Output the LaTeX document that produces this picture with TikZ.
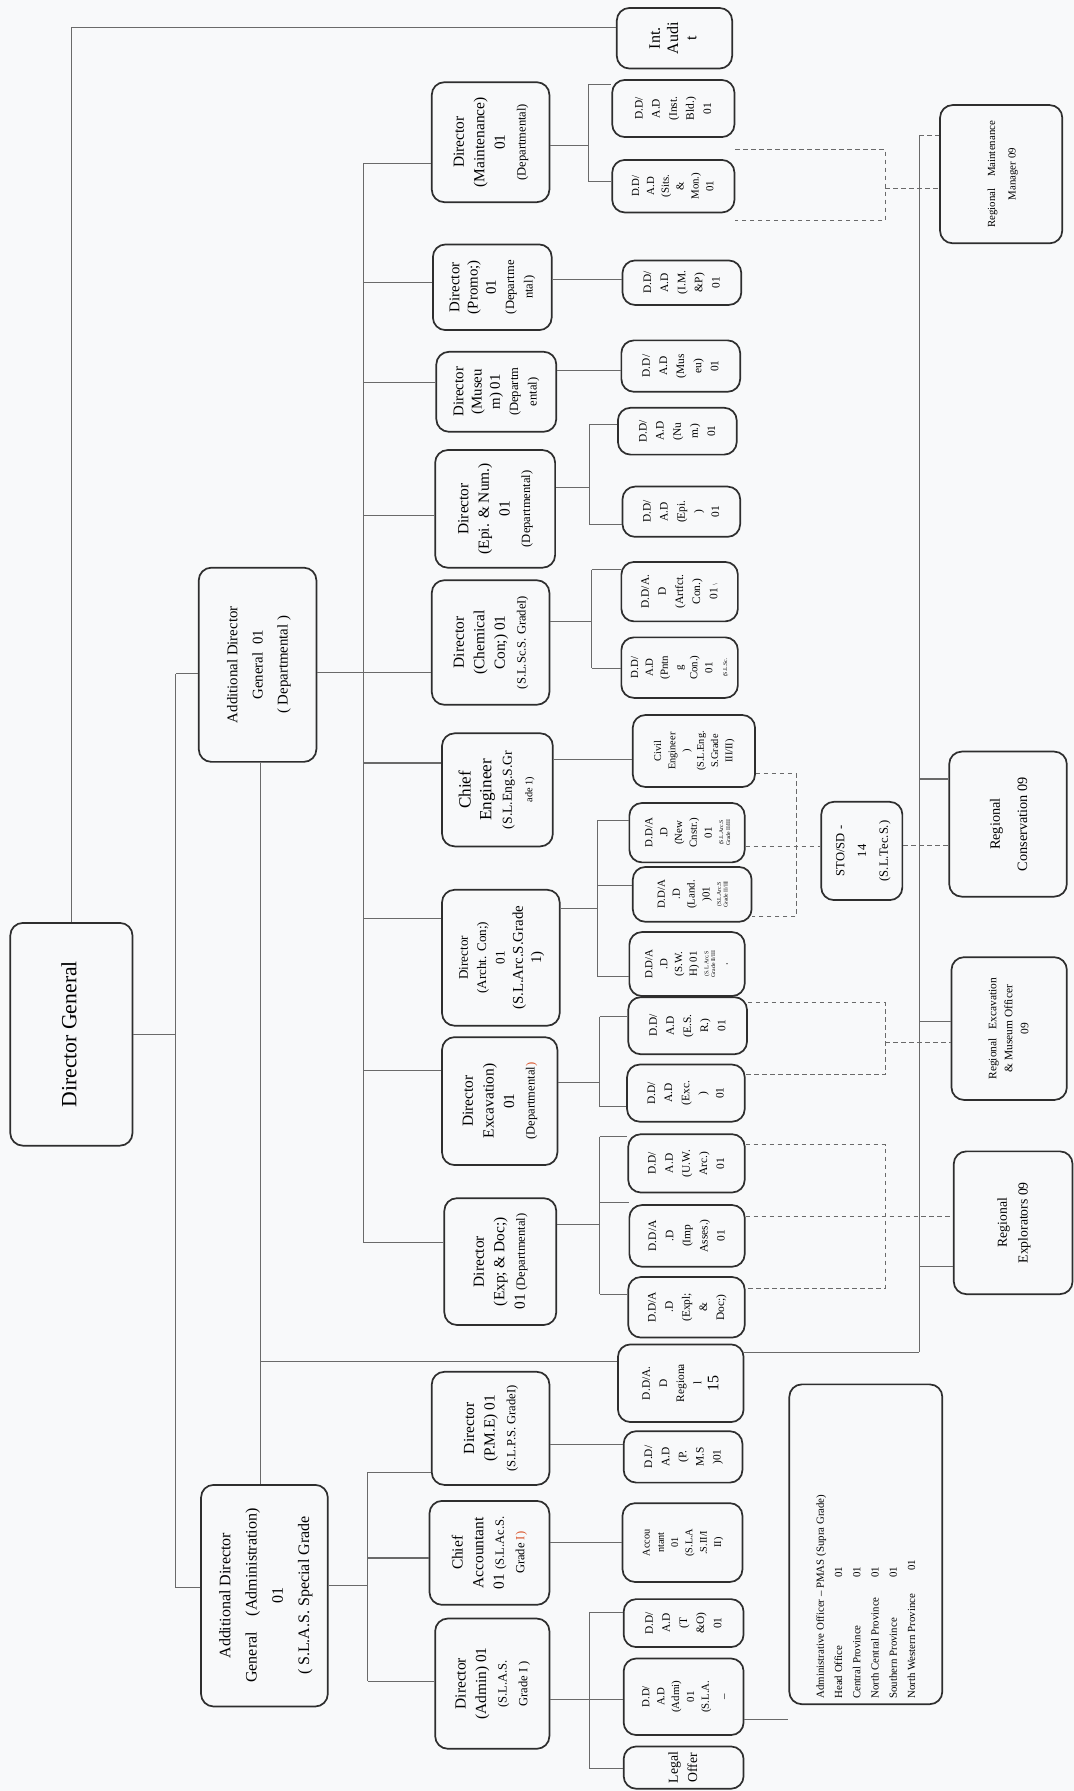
\documentclass[tikz,border=0pt]{standalone}
\usepackage{fontspec}
\setmainfont{Liberation Serif}
\usepackage{graphicx}
\definecolor{boxc}{HTML}{2E2E2E}
\definecolor{linec}{HTML}{6A6A6A}
\definecolor{bgc}{HTML}{F8F9FA}
\definecolor{redt}{HTML}{D9542B}
\newcommand\fs[2]{\fontsize{#1}{#2}\selectfont}
\newcommand\tinyl[1]{{\fs{5}{6}\begin{tabular}{@{}c@{}}#1\end{tabular}}}
\newcommand\BX[7][]{\node[bx,minimum width={(#5-#3)*1pt},minimum height={(#6-#4)*1pt},#1] (#2) at ({(#3+#5)/2},{(#4+#6)/2}) {\rotatebox{90}{\begin{tabular}{@{}c@{}}#7\end{tabular}}};}
\tikzset{
  bx/.style={draw=boxc, line width=1.5pt, rounded corners=11pt, inner sep=0pt, align=center},
  con/.style={draw=linec, line width=0.9pt},
  dsh/.style={draw=linec, line width=0.9pt, dash pattern=on 4pt off 3pt},
  fdg/.style={font=\fs{19}{22}},
  fia/.style={font=\fs{14}{16}},
  fadg/.style={font=\fs{13}{22}},
  fadga/.style={font=\fs{14}{23}},
  fdir/.style={font=\fs{13.5}{18}},
  fdir2/.style={font=\fs{13}{16}},
  fdd/.style={font=\fs{10}{15}},
  fsm/.style={font=\fs{9}{12.5}},
  fsm2/.style={font=\fs{9.5}{13}},
  flg/.style={font=\fs{12}{17}},
  frm/.style={font=\fs{9.5}{18}},
  frc/.style={font=\fs{12.5}{24}},
  fre/.style={font=\fs{10}{14}},
  frx/.style={font=\fs{12}{18}},
  fsto/.style={font=\fs{11}{19}}
}
\begin{document}
\begin{tikzpicture}[x=1pt,y=-1pt]
\fill[bgc] (0,0) rectangle (940,1568);
\useasboundingbox (0,0) rectangle (940,1568);

% ---------- top level
\BX[fdg]{dg}{9}{808}{116}{1003}{Director General}
\BX[fia]{intaudit}{540}{7}{641}{60}{Int.\\Audi\\t}
\BX[fadg]{adgd}{174}{497}{277}{667}{Additional Director\\General\ \ 01\\( Departmental )}
\BX[fadga]{adga}{176}{1300}{287}{1494}{Additional Director\\General\hspace{14pt}(Administration)\\01\\( S.L.A.S. Special Grade}

% ---------- directors (departmental)
\BX[fdir]{dmaint}{378}{72}{481}{177}{Director\\(Maintenance)\\01\\{\fs{11}{13}(Departmental)}}
\BX[fdir2]{dpromo}{379}{214}{483}{289}{Director\\(Promo;)\\01\\{\fs{11}{13}(Departme}\\{\fs{11}{13}ntal)}}
\BX[fdir2]{dmus}{382}{308}{487}{378}{Director\\(Museu\\m) 01\\{\fs{11}{13}(Departm}\\{\fs{11}{13}ental)}}
\BX[fdir]{depi}{381}{394}{486}{497}{Director\\(Epi. \& Num.)\\01\\{\fs{11}{13}(Departmental)}}
\BX[fdir]{dchem}{378}{508}{481}{617}{Director\\(Chemical\\Con;) 01\\{\fs{11}{13}(S.L.Sc.S. GradeI)}}
\BX[fdir]{dce}{387}{642}{484}{741}{{\fs{15}{18}Chief}\\{\fs{15}{18}Engineer}\\{\fs{12}{14}(S.L.Eng.S.Gr}\\{\fs{9}{10}ade 1)}}
\BX[fdir2]{darch}{387}{779}{490}{898}{{\fs{11.5}{14}Director}\\{\fs{11.5}{14}(Archt. Con;)}\\{\fs{11.5}{14}01}\\(S.L.Arc.S.Grade\\1)}
\BX[fdir]{dexc}{387}{908}{488}{1020}{Director\\Excavation)\\01\\{\fs{11}{13}(Departmental\textcolor{redt}{)}}}
\BX[fdir]{dexp}{389}{1049}{487}{1160}{Director\\(Exp; \& Doc;)\\01 {\fs{11}{13}(Departmental)}}

% ---------- directors (admin)
\BX[fdir]{dpme}{378}{1201}{481}{1300}{Director\\(P.M.E) 01\\{\fs{11}{13}(S.L.P.S. GradeI)}}
\BX[fdir]{dcacc}{376}{1314}{481}{1405}{Chief\\Accountant\\01 {\fs{11}{13}(S.L.Ac.S.}\\{\fs{11}{13}Grade \textcolor{redt}{I)}}}
\BX[fdir]{dadmin}{381}{1417}{481}{1531}{Director\\(Admin) 01\\{\fs{11}{13}(S.L.A.S.}\\{\fs{11}{13}Grade I )}}

% ---------- D.D / A.D column
\BX[fdd]{ddinst}{536}{70}{643}{120}{D.D/\\A.D\\(Inst.\\Bld.)\\01}
\BX[fsm2]{ddsits}{536}{140}{643}{186}{D.D/\\A.D\\(Sits.\\\&\\Mon.)\\01}
\BX[fdd]{ddimp}{545}{228}{649}{267}{D.D/\\A.D\\(I.M.\\\&P)\\01}
\BX[fdd]{ddmus}{544}{298}{648}{343}{D.D/\\A.D\\(Mus\\eu)\\01}
\BX[fdd]{ddnum}{541}{357}{645}{398}{D.D/\\A.D\\(Nu\\m.)\\01}
\BX[fdd]{ddepi}{545}{426}{648}{470}{D.D/\\A.D\\(Epi.\\)\\01}
\BX[fdd]{ddart}{544}{492}{646}{544}{D.D/A.\\D\\(Artfct.\\Con.)\\01\,{\fs{6}{7}\textbackslash}}
\BX[fsm2]{ddpnt}{544}{558}{646}{611}{D.D/\\A.D\\(Pntn\\g\\Con.)\\01\\{\fs{5}{6}(S.L.Sc.}}
\BX[fsm]{civil}{554}{626}{661}{689}{Civil\\Engineer\\)\\(S.L.Eng.\\S.Grade\\III/II)}
\BX[fsm2]{ddnew}{551}{703}{652}{755}{D.D/A\\.D\\(New\\Cnstr.)\\01\\\tinyl{(S.L.Arc.S\\Grade II/III}}
\BX[fsm2]{ddland}{554}{759}{658}{807}{D.D/A\\.D\\(Land.\\)01\\\tinyl{(S.L.Arc.S\\Grade II/III}}
\BX[fsm2]{ddswh}{551}{816}{652}{872}{D.D/A\\.D\\(S.W.\\H) 01\\\tinyl{(S.L.Arc.S\\Grade II/III}\\.}
\BX[fdd]{ddesr}{550}{873}{654}{923}{D.D/\\A.D\\(E.S.\\R.)\\01}
\BX[fdd]{ddexc}{549}{932}{652}{982}{D.D/\\A.D\\(Exc.\\)\\01}
\BX[fdd]{dduw}{550}{993}{652}{1044}{D.D/\\A.D\\(U.W.\\Arc.)\\01}
\BX[fdd]{ddimpa}{551}{1055}{652}{1109}{D.D/A\\.D\\(Imp\\Asses.)\\01}
\BX[fdd]{ddexpl}{550}{1118}{652}{1171}{D.D/A\\.D\\(Expl;\\\&\\Doc;)}
\BX[fdd]{ddreg}{541}{1177}{651}{1245}{D.D/A.\\D\\Regiona\\l\\{\fs{14}{15}15}}
\BX[fdd]{ddpms}{546}{1253}{650}{1298}{D.D/\\A.D\\(P.\\M.S\\)01}
\BX[fsm]{ddacc}{545}{1316}{650}{1385}{Accou\\ntant\\01\\(S.L.A\\.S.II/I\\II)}
\BX[fdd]{ddto}{546}{1400}{651}{1442}{D.D/\\A.D\\(T\\\&O)\\01}
\BX[fsm2]{ddadmi}{546}{1452}{651}{1519}{D.D/\\A.D\\(Admi)\\01\\(S.L.A.\\\_}
\BX[flg]{legal}{546}{1529}{651}{1566}{Legal\\Offer}

% ---------- regional / right side
\BX[frm]{regmaint}{823}{92}{930}{213}{Regional\hspace{10pt}Maintenance\\Manager 09}
\BX[frc]{regcons}{831}{658}{934}{785}{Regional\\Conservation 09}
\BX[fre]{regexc}{833}{838}{934}{963}{Regional\hspace{8pt}Excavation\\\& Museum Officer\\09}
\BX[frx]{regexp}{835}{1008}{939}{1133}{Regional\\Explorators 09}
\BX[fsto]{sto}{719}{702}{790}{788}{STO/SD -\\14\\(S.L.Tec.S.)}
\node[bx,minimum width=134pt,minimum height=280pt] (pmas) at (758,1352)
 {\rotatebox{90}{\begin{minipage}{270pt}\fs{9.5}{16}\setlength\parindent{0pt}%
 Administrative Officer -- PMAS (Supra Grade)\\
 \makebox[106pt][l]{Head Office}01\\
 \makebox[106pt][l]{Central Province}01\\
 \makebox[106pt][l]{North Central Province}01\\
 \makebox[106pt][l]{Southern Province}01\\
 \makebox[112pt][l]{North Western Province}01\end{minipage}}};

% ---------- solid connectors
\coordinate (iaA) at (63,24);
\draw[con] (dg.north -| iaA) -- (iaA) -- (iaA -| intaudit.west);
\coordinate (tt) at (154,590);
\coordinate (tb) at (154,1390);
\draw[con] (tt) -- (tb);
\draw[con] (dg.east) -- (dg.east -| tt);
\draw[con] (tt) -- (tt -| adgd.west);
\draw[con] (tb) -- (tb -| adga.west);

\coordinate (dtt) at (318,143);
\coordinate (dtb) at (318,1088);
\draw[con] (dtt) -- (dtb);
\draw[con] (adgd.east |- 0,589) -- (dchem.west |- 0,589);
\draw[con] (dtt) -- (dtt -| dmaint.west);
\draw[con] (dtt |- 0,247) -- (dpromo.west |- 0,247);
\draw[con] (dtt |- 0,335) -- (dmus.west |- 0,335);
\draw[con] (dtt |- 0,451) -- (depi.west |- 0,451);
\draw[con] (dtt |- 0,668) -- (dce.west |- 0,668);
\draw[con] (dtt |- 0,804) -- (darch.west |- 0,804);
\draw[con] (dtt |- 0,937) -- (dexc.west |- 0,937);
\draw[con] (dtb) -- (dtb -| dexp.west);

\coordinate (av) at (228,1192);
\draw[con] (adgd.south -| av) -- (adga.north -| av);
\draw[con] (av) -- (av -| ddreg.west);

\coordinate (abt) at (322,1289);
\coordinate (abb) at (322,1472);
\draw[con] (adga.east |- 0,1388) -- (abt |- 0,1388);
\draw[con] (abt) -- (abb);
\draw[con] (abt) -- (abt -| dpme.west);
\draw[con] (abt |- 0,1364) -- (dcacc.west |- 0,1364);
\draw[con] (abb) -- (abb -| dadmin.west);

% maintenance bracket
\coordinate (bm1) at (515,74);
\coordinate (bm2) at (515,159);
\draw[con] (dmaint.east |- 0,127) -- (bm1 |- 0,127);
\draw[con] (bm1) -- (bm2);
\draw[con] (bm1) -- (bm1 -| ddinst.west);
\draw[con] (bm2) -- (bm2 -| ddsits.west);
\draw[con] (dpromo.east |- 0,245) -- (ddimp.west |- 0,245);
\draw[con] (dmus.east |- 0,324) -- (ddmus.west |- 0,324);
% epi bracket
\coordinate (be1) at (516,372);
\coordinate (be2) at (516,459);
\draw[con] (depi.east |- 0,427) -- (be1 |- 0,427);
\draw[con] (be1) -- (be2);
\draw[con] (be1) -- (be1 -| ddnum.west);
\draw[con] (be2) -- (be2 -| ddepi.west);
% chemical bracket
\coordinate (bc1) at (518,499);
\coordinate (bc2) at (518,585);
\draw[con] (dchem.east |- 0,544) -- (bc1 |- 0,544);
\draw[con] (bc1) -- (bc2);
\draw[con] (bc1) -- (bc1 -| ddart.west);
\draw[con] (bc2) -- (bc2 -| ddpnt.west);
\draw[con] (dce.east |- 0,665) -- (civil.west |- 0,665);
% archt bracket
\coordinate (ba1) at (523,718);
\coordinate (ba2) at (523,855);
\draw[con] (darch.east |- 0,795) -- (ba1 |- 0,795);
\draw[con] (ba1) -- (ba2);
\draw[con] (ba1) -- (ba1 -| ddnew.west);
\draw[con] (ba1 |- 0,775) -- (ddland.west |- 0,775);
\draw[con] (ba2) -- (ba2 -| ddswh.west);
% excavation bracket
\coordinate (bx1) at (525,890);
\coordinate (bx2) at (525,969);
\draw[con] (dexc.east |- 0,948) -- (bx1 |- 0,948);
\draw[con] (bx1) -- (bx2);
\draw[con] (bx1) -- (bx1 -| ddesr.west);
\draw[con] (bx2) -- (bx2 -| ddexc.west);
% exploration bracket
\coordinate (bp1) at (525,995);
\coordinate (bp2) at (525,1133);
\draw[con] (dexp.east |- 0,1072) -- (bp1 |- 0,1072);
\draw[con] (bp1) -- (bp2);
\draw[con] (bp1) -- (bp1 -| dduw.west);
\draw[con] (bp1 |- 0,1053) -- (ddimpa.west |- 0,1053);
\draw[con] (bp2) -- (bp2 -| ddexpl.west);
% admin
\draw[con] (dpme.east |- 0,1265) -- (ddpms.west |- 0,1265);
\draw[con] (dcacc.east |- 0,1350) -- (ddacc.west |- 0,1350);
\coordinate (bd1) at (516,1412);
\coordinate (bd2) at (516,1548);
\draw[con] (dadmin.east |- 0,1488) -- (ddadmi.west |- 0,1488);
\draw[con] (bd1) -- (bd2);
\draw[con] (bd1) -- (bd1 -| ddto.west);
\draw[con] (bd2) -- (bd2 -| legal.west);
\draw[con] (ddadmi.east |- 0,1505) -- (pmas.west |- 0,1505);

% regional solid line
\coordinate (rvt) at (805,119);
\coordinate (rvb) at (805,1184);
\draw[con] (rvt) -- (rvb);
\draw[con] (ddreg.east |- rvb) -- (rvb);
\draw[con] (rvt |- 0,682) -- (regcons.west |- 0,682);
\draw[con] (rvt |- 0,894) -- (regexc.west |- 0,894);
\draw[con] (rvt |- 0,1109) -- (regexp.west |- 0,1109);
\draw[dsh] (rvt) -- (rvt -| regmaint.west);

% dashed groups
\coordinate (md1) at (775,131);
\coordinate (md2) at (775,193);
\draw[dsh] (ddsits.east |- md1) -- (md1) -- (md2) -- (ddsits.east |- md2);
\draw[dsh] (md1 |- 0,165) -- (regmaint.west |- 0,165);

\coordinate (cd1) at (697,677);
\coordinate (cd2) at (697,802);
\draw[dsh] (civil.east |- cd1) -- (cd1) -- (cd2) -- (ddland.east |- cd2);
\draw[dsh] (ddnew.east |- 0,741) -- (sto.west |- 0,741);
\draw[dsh] (sto.east |- 0,740) -- (regcons.west |- 0,740);

\coordinate (ed1) at (775,878);
\coordinate (ed2) at (775,941);
\draw[dsh] (ddesr.east |- ed1) -- (ed1) -- (ed2) -- (ddexc.east |- ed2);
\draw[dsh] (ed1 |- 0,913) -- (regexc.west |- 0,913);

\coordinate (xd1) at (775,1002);
\coordinate (xd2) at (775,1128);
\draw[dsh] (dduw.east |- xd1) -- (xd1) -- (xd2) -- (ddexpl.east |- xd2);
\draw[dsh] (ddimpa.east |- 0,1065) -- (regexp.west |- 0,1065);
\end{tikzpicture}
\end{document}
